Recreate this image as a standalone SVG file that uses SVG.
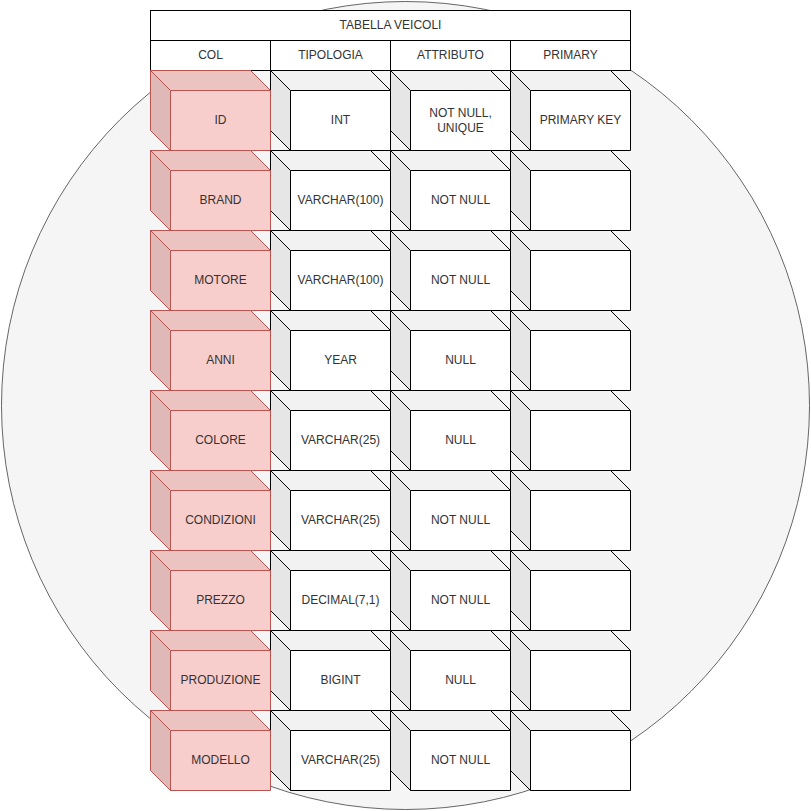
<svg xmlns="http://www.w3.org/2000/svg" xmlns:xlink="http://www.w3.org/1999/xlink" width="811" height="811" viewBox="0 0 811 811">
<style>
text{font-family:"Liberation Sans",Arial,sans-serif;font-size:12px;fill:#333333;text-anchor:middle;dominant-baseline:central}
.cell{fill:#ffffff;stroke:#000000;stroke-width:1}
</style>
<defs>
<g id="cubeW">
<path d="M0,0H100L120,20V80H20L0,60Z" fill="#ffffff"/>
<path d="M0,0H100L120,20H20Z" fill="#f2f2f2"/>
<path d="M0,0L20,20V80L0,60Z" fill="#e6e6e6"/>
<path d="M0,0H100L120,20V80H20L0,60ZM0,0L20,20H120M20,20V80" fill="none" stroke="#000000"/>
</g>
<g id="cubeR">
<path d="M0,0H100L120,20V80H20L0,60Z" fill="#f8cecc"/>
<path d="M0,0H100L120,20H20Z" fill="#ebc4c2"/>
<path d="M0,0L20,20V80L0,60Z" fill="#dfb9b8"/>
<path d="M0,0H100L120,20V80H20L0,60ZM0,0L20,20H120M20,20V80" fill="none" stroke="#b85450"/>
</g>
</defs>
<g transform="translate(0.5,0.5)">
<g id="circle"><circle cx="405" cy="405" r="404" fill="#f5f5f5" stroke="#666666"/></g>
<g id="title"><rect class="cell" x="150" y="10" width="480" height="30"/><text x="390" y="24">TABELLA VEICOLI</text></g>
<g id="h-col"><rect class="cell" x="150" y="40" width="120" height="30"/><text x="210" y="54">COL</text></g>
<g id="h-tipologia"><rect class="cell" x="270" y="40" width="120" height="30"/><text x="330" y="54">TIPOLOGIA</text></g>
<g id="h-attributo"><rect class="cell" x="390" y="40" width="120" height="30"/><text x="450" y="54">ATTRIBUTO</text></g>
<g id="h-primary"><rect class="cell" x="510" y="40" width="120" height="30"/><text x="570" y="54">PRIMARY</text></g>

<g id="r1-p"><use xlink:href="#cubeW" x="510" y="70"/><text x="580" y="119">PRIMARY KEY</text></g>
<g id="r1-a"><use xlink:href="#cubeW" x="390" y="70"/><text x="460" y="112">NOT NULL,</text><text x="460" y="127">UNIQUE</text></g>
<g id="r1-t"><use xlink:href="#cubeW" x="270" y="70"/><text x="340" y="119">INT</text></g>
<g id="r1-c"><use xlink:href="#cubeR" x="150" y="70"/><text x="220" y="119">ID</text></g>

<g id="r2-p"><use xlink:href="#cubeW" x="510" y="150"/></g>
<g id="r2-a"><use xlink:href="#cubeW" x="390" y="150"/><text x="460" y="199">NOT NULL</text></g>
<g id="r2-t"><use xlink:href="#cubeW" x="270" y="150"/><text x="340" y="199">VARCHAR(100)</text></g>
<g id="r2-c"><use xlink:href="#cubeR" x="150" y="150"/><text x="220" y="199">BRAND</text></g>

<g id="r3-p"><use xlink:href="#cubeW" x="510" y="230"/></g>
<g id="r3-a"><use xlink:href="#cubeW" x="390" y="230"/><text x="460" y="279">NOT NULL</text></g>
<g id="r3-t"><use xlink:href="#cubeW" x="270" y="230"/><text x="340" y="279">VARCHAR(100)</text></g>
<g id="r3-c"><use xlink:href="#cubeR" x="150" y="230"/><text x="220" y="279">MOTORE</text></g>

<g id="r4-p"><use xlink:href="#cubeW" x="510" y="310"/></g>
<g id="r4-a"><use xlink:href="#cubeW" x="390" y="310"/><text x="460" y="359">NULL</text></g>
<g id="r4-t"><use xlink:href="#cubeW" x="270" y="310"/><text x="340" y="359">YEAR</text></g>
<g id="r4-c"><use xlink:href="#cubeR" x="150" y="310"/><text x="220" y="359">ANNI</text></g>

<g id="r5-p"><use xlink:href="#cubeW" x="510" y="390"/></g>
<g id="r5-a"><use xlink:href="#cubeW" x="390" y="390"/><text x="460" y="439">NULL</text></g>
<g id="r5-t"><use xlink:href="#cubeW" x="270" y="390"/><text x="340" y="439">VARCHAR(25)</text></g>
<g id="r5-c"><use xlink:href="#cubeR" x="150" y="390"/><text x="220" y="439">COLORE</text></g>

<g id="r6-p"><use xlink:href="#cubeW" x="510" y="470"/></g>
<g id="r6-a"><use xlink:href="#cubeW" x="390" y="470"/><text x="460" y="519">NOT NULL</text></g>
<g id="r6-t"><use xlink:href="#cubeW" x="270" y="470"/><text x="340" y="519">VARCHAR(25)</text></g>
<g id="r6-c"><use xlink:href="#cubeR" x="150" y="470"/><text x="220" y="519">CONDIZIONI</text></g>

<g id="r7-p"><use xlink:href="#cubeW" x="510" y="550"/></g>
<g id="r7-a"><use xlink:href="#cubeW" x="390" y="550"/><text x="460" y="599">NOT NULL</text></g>
<g id="r7-t"><use xlink:href="#cubeW" x="270" y="550"/><text x="340" y="599">DECIMAL(7,1)</text></g>
<g id="r7-c"><use xlink:href="#cubeR" x="150" y="550"/><text x="220" y="599">PREZZO</text></g>

<g id="r8-p"><use xlink:href="#cubeW" x="510" y="630"/></g>
<g id="r8-a"><use xlink:href="#cubeW" x="390" y="630"/><text x="460" y="679">NULL</text></g>
<g id="r8-t"><use xlink:href="#cubeW" x="270" y="630"/><text x="340" y="679">BIGINT</text></g>
<g id="r8-c"><use xlink:href="#cubeR" x="150" y="630"/><text x="220" y="679">PRODUZIONE</text></g>

<g id="r9-p"><use xlink:href="#cubeW" x="510" y="710"/></g>
<g id="r9-a"><use xlink:href="#cubeW" x="390" y="710"/><text x="460" y="759">NOT NULL</text></g>
<g id="r9-t"><use xlink:href="#cubeW" x="270" y="710"/><text x="340" y="759">VARCHAR(25)</text></g>
<g id="r9-c"><use xlink:href="#cubeR" x="150" y="710"/><text x="220" y="759">MODELLO</text></g>
</g>
</svg>
